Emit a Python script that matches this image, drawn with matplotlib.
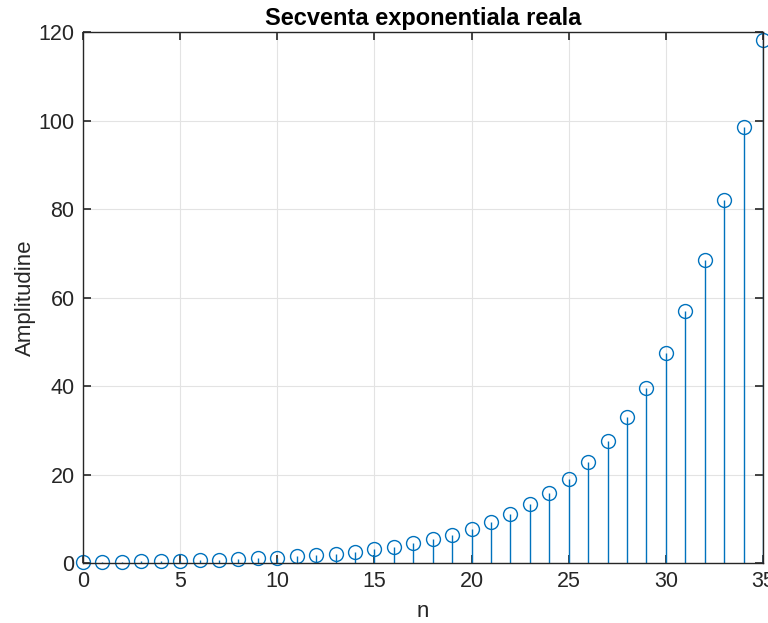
import numpy as np
import matplotlib.pyplot as plt

plt.rcParams['font.family'] = ['Liberation Sans', 'DejaVu Sans']

# sample index and amplitude of the real exponential sequence
n = list(range(36))
amplitude = [0.20, 0.24, 0.29, 0.35, 0.41, 0.50, 0.60, 0.72, 0.86, 1.03,
             1.24, 1.49, 1.78, 2.14, 2.57, 3.08, 3.70, 4.44, 5.32, 6.39,
             7.67, 9.20, 11.04, 13.25, 15.90, 19.08, 22.90, 27.48, 32.97, 39.57,
             47.48, 56.98, 68.37, 82.05, 98.46, 118.15]
x_ticks = [0, 5, 10, 15, 20, 25, 30, 35]
y_ticks = [0, 20, 40, 60, 80, 100, 120]

blue = '#0072BD'

fig = plt.figure(figsize=(7.68, 6.23), dpi=100)
ax = fig.add_axes([0.108, 0.0963, 0.8855, 0.8523])

markerline, stemlines, baseline = ax.stem(n, amplitude, basefmt=' ')
plt.setp(stemlines, color=blue, linewidth=1.0)
plt.setp(markerline, marker='o', markersize=10, markerfacecolor='none',
         markeredgecolor=blue, markeredgewidth=1.0)
markerline.set_clip_on(False)

ax.set_xlim(0, 35)
ax.set_ylim(0, 120)
ax.set_xticks(x_ticks)
ax.set_yticks(y_ticks)
ax.grid(True, color='#e3e3e3', linewidth=0.8)
ax.set_axisbelow(True)

ax.tick_params(direction='in', top=True, right=True, length=6, width=1.2,
               labelsize=15.5, colors='#262626', pad=6)
for side in ax.spines.values():
    side.set_color('#262626')
    side.set_linewidth(1.0)

ax.set_title('Secventa exponentiala reala', fontsize=17, fontweight='bold', pad=5)
ax.set_xlabel('n', fontsize=16, color='#262626', labelpad=6)
ax.set_ylabel('Amplitudine', fontsize=16, color='#262626', labelpad=2)

fig.savefig('out.png', dpi=100)
